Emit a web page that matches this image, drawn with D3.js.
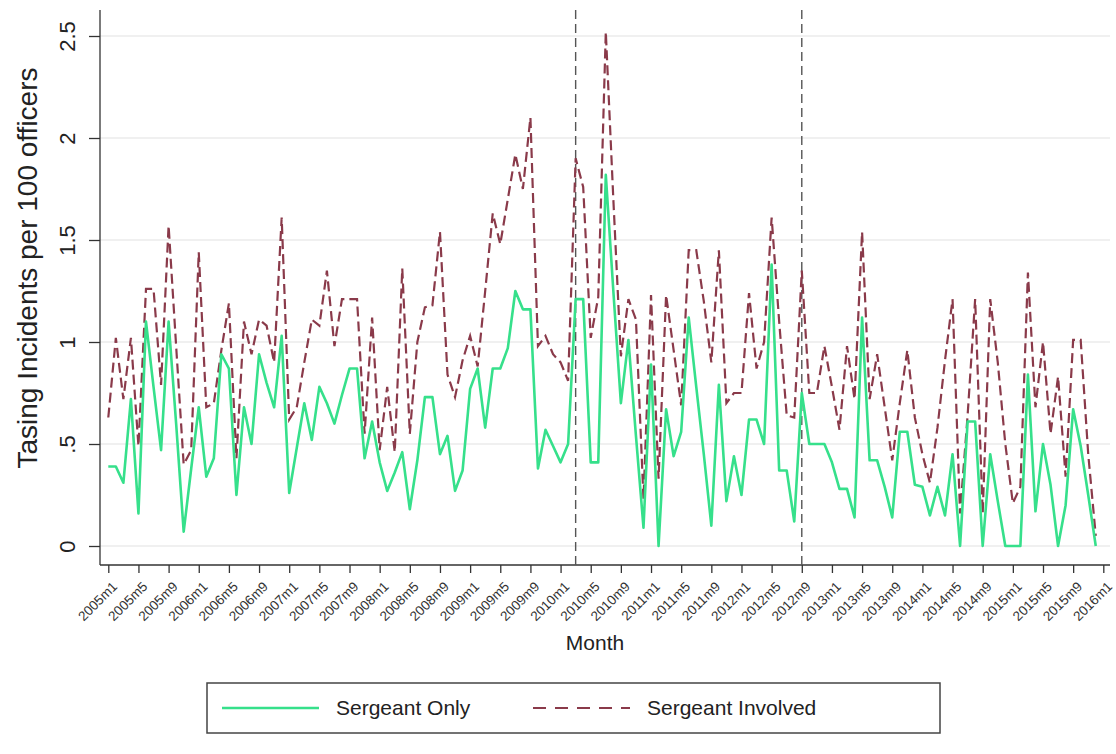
<!DOCTYPE html>
<html>
<head>
<meta charset="utf-8">
<script src="https://cdn.jsdelivr.net/npm/d3@7"></script>
<style>
  html, body { margin: 0; padding: 0; background: #fff; }
  svg { display: block; font-family: "Liberation Sans", Arial, Helvetica, sans-serif; }
</style>
</head>
<body>
<div class="chart"></div>
<script>
// months on the axis: 2005m1 .. 2016m1
const startYear = 2005;
const monthCount = 133;
const months = d3.range(monthCount).map(i => `${startYear + Math.floor(i / 12)}m${(i % 12) + 1}`);

const tickLabels = [
    "2005m1", "2005m5", "2005m9", "2006m1", "2006m5", "2006m9", "2007m1", "2007m5", "2007m9",
    "2008m1", "2008m5", "2008m9", "2009m1", "2009m5", "2009m9", "2010m1", "2010m5", "2010m9",
    "2011m1", "2011m5", "2011m9", "2012m1", "2012m5", "2012m9", "2013m1", "2013m5", "2013m9",
    "2014m1", "2014m5", "2014m9", "2015m1", "2015m5", "2015m9", "2016m1"
];
const yTicks = [0, 0.5, 1, 1.5, 2, 2.5];
const yTickLabels = ["0", ".5", "1", "1.5", "2", "2.5"];
const breakMonths = ["2010m3", "2012m9"];
const seriesNames = ["Sergeant Only", "Sergeant Involved"];

// monthly values, 2005m1 .. 2015m12
const sergeantOnly = [
    0.39, 0.39, 0.31, 0.72, 0.16, 1.10, 0.78, 0.47, 1.10, 0.60, 0.07, 0.38,
    0.68, 0.34, 0.43, 0.94, 0.87, 0.25, 0.68, 0.50, 0.94, 0.80, 0.68, 1.03,
    0.26, 0.48, 0.70, 0.52, 0.78, 0.70, 0.60, 0.74, 0.87, 0.87, 0.43, 0.61,
    0.41, 0.27, 0.36, 0.46, 0.18, 0.42, 0.73, 0.73, 0.45, 0.54, 0.27, 0.37,
    0.77, 0.87, 0.58, 0.87, 0.87, 0.97, 1.25, 1.16, 1.16, 0.38, 0.57, 0.49,
    0.41, 0.50, 1.21, 1.21, 0.41, 0.41, 1.82, 1.25, 0.70, 1.01, 0.54, 0.09,
    0.89, 0.00, 0.67, 0.44, 0.56, 1.12, 0.78, 0.45, 0.10, 0.79, 0.22, 0.44,
    0.25, 0.62, 0.62, 0.50, 1.38, 0.37, 0.37, 0.12, 0.75, 0.50, 0.50, 0.50,
    0.41, 0.28, 0.28, 0.14, 1.12, 0.42, 0.42, 0.29, 0.14, 0.56, 0.56, 0.30,
    0.29, 0.15, 0.29, 0.15, 0.45, 0.00, 0.61, 0.61, 0.00, 0.45, 0.22, 0.00,
    0.00, 0.00, 0.84, 0.17, 0.50, 0.30, 0.00, 0.20, 0.67, 0.49, 0.25, 0.00
];
const sergeantInvolved = [
    0.63, 1.02, 0.72, 1.02, 0.49, 1.26, 1.26, 0.79, 1.57, 0.98, 0.40, 0.47,
    1.44, 0.68, 0.70, 0.96, 1.19, 0.43, 1.10, 0.94, 1.11, 1.08, 0.90, 1.61,
    0.62, 0.68, 0.90, 1.11, 1.08, 1.35, 0.98, 1.21, 1.21, 1.21, 0.55, 1.12,
    0.47, 0.78, 0.46, 1.36, 0.55, 1.00, 1.17, 1.18, 1.54, 0.84, 0.73, 0.91,
    1.03, 0.88, 1.25, 1.63, 1.48, 1.70, 1.92, 1.75, 2.10, 0.98, 1.03, 0.94,
    0.90, 0.81, 1.90, 1.76, 1.02, 1.22, 2.52, 1.70, 0.93, 1.21, 1.11, 0.23,
    1.23, 0.33, 1.23, 0.96, 0.69, 1.45, 1.45, 1.20, 0.90, 1.45, 0.70, 0.75,
    0.75, 1.24, 0.87, 1.00, 1.61, 1.10, 0.64, 0.63, 1.35, 0.75, 0.75, 0.98,
    0.78, 0.57, 0.98, 0.72, 1.54, 0.72, 0.94, 0.68, 0.42, 0.70, 0.96, 0.63,
    0.45, 0.31, 0.58, 0.91, 1.21, 0.16, 0.64, 1.21, 0.16, 1.21, 0.90, 0.50,
    0.21, 0.29, 1.34, 0.68, 1.00, 0.55, 0.83, 0.34, 1.01, 1.01, 0.45, 0.05
];

const width = 1116;
const height = 754;
const frame = { left: 100, right: 1110, top: 10, bottom: 565 };

const green = "#36e08b";
const maroon = "#8a3a4a";
const axisColor = "#333";

const svg = d3.select(".chart")
    .append("svg")
    .attr("width", width)
    .attr("height", height);

const xScale = d3.scalePoint().domain(months).range([108.3, 1103.3]);
const yScale = d3.scaleLinear().domain([0, 2.5]).range([546, 36]);

// grid lines
svg.append("g")
    .selectAll("line")
    .data(yTicks)
    .enter()
    .append("line")
    .attr("x1", frame.left)
    .attr("x2", frame.right)
    .attr("y1", d => yScale(d))
    .attr("y2", d => yScale(d))
    .attr("stroke", "#ebebeb")
    .attr("stroke-width", 1.5);

// y axis
const yAxis = svg.append("g")
    .attr("transform", `translate(${frame.left},0)`)
    .call(d3.axisLeft(yScale)
        .tickValues(yTicks)
        .tickFormat((d, i) => yTickLabels[i])
        .tickSize(11)
        .tickSizeOuter(0));
yAxis.select(".domain").remove();
yAxis.selectAll(".tick line").attr("stroke", axisColor).attr("stroke-width", 1.3);
yAxis.selectAll(".tick text")
    .attr("x", 0)
    .attr("y", 0)
    .attr("dy", 0)
    .attr("text-anchor", "middle")
    .attr("transform", "translate(-25,0) rotate(-90)")
    .attr("font-size", 22)
    .attr("fill", "#222");

svg.append("line")
    .attr("x1", frame.left).attr("x2", frame.left)
    .attr("y1", frame.top).attr("y2", frame.bottom)
    .attr("stroke", axisColor).attr("stroke-width", 1.3);

// x axis
const xAxis = svg.append("g")
    .attr("transform", `translate(0,${frame.bottom})`)
    .call(d3.axisBottom(xScale)
        .tickValues(tickLabels)
        .tickSize(8)
        .tickSizeOuter(0));
xAxis.select(".domain").remove();
xAxis.selectAll(".tick line").attr("stroke", axisColor).attr("stroke-width", 1.3);
xAxis.selectAll(".tick text")
    .attr("x", 0)
    .attr("y", 0)
    .attr("dy", "0.35em")
    .attr("text-anchor", "end")
    .attr("transform", "translate(6,19) rotate(-45)")
    .attr("font-size", 13.5)
    .attr("fill", "#333");

svg.append("line")
    .attr("x1", frame.left).attr("x2", frame.right)
    .attr("y1", frame.bottom).attr("y2", frame.bottom)
    .attr("stroke", axisColor).attr("stroke-width", 1.3);

// reference lines
svg.append("g")
    .selectAll("line")
    .data(breakMonths)
    .enter()
    .append("line")
    .attr("x1", d => xScale(d))
    .attr("x2", d => xScale(d))
    .attr("y1", frame.top)
    .attr("y2", frame.bottom)
    .attr("stroke", "#555")
    .attr("stroke-width", 1.4)
    .attr("stroke-dasharray", "9,5");

// series
const line = d3.line()
    .x((d, i) => xScale(months[i]))
    .y(d => yScale(d));

svg.append("path")
    .datum(sergeantInvolved)
    .attr("fill", "none")
    .attr("stroke", maroon)
    .attr("stroke-width", 2.2)
    .attr("stroke-dasharray", "10,5")
    .attr("d", line);

svg.append("path")
    .datum(sergeantOnly)
    .attr("fill", "none")
    .attr("stroke", green)
    .attr("stroke-width", 2.6)
    .attr("stroke-linejoin", "round")
    .attr("d", line);

// titles
svg.append("text")
    .attr("x", 595)
    .attr("y", 650)
    .attr("text-anchor", "middle")
    .attr("font-size", 21)
    .attr("fill", "#222")
    .text("Month");

svg.append("text")
    .attr("transform", "translate(37,268) rotate(-90)")
    .attr("text-anchor", "middle")
    .attr("font-size", 28)
    .attr("fill", "#222")
    .text("Tasing Incidents per 100 officers");

// legend
const legend = svg.append("g");
legend.append("rect")
    .attr("x", 207).attr("y", 683)
    .attr("width", 733).attr("height", 50)
    .attr("fill", "#fff")
    .attr("stroke", "#444")
    .attr("stroke-width", 1.5);

const legendItems = [
    { name: seriesNames[0], color: green, dash: null, width: 2.6, x: 222 },
    { name: seriesNames[1], color: maroon, dash: "13,9", width: 2.2, x: 533 }
];
legendItems.forEach(d => {
    legend.append("line")
        .attr("x1", d.x).attr("x2", d.x + 97)
        .attr("y1", 708).attr("y2", 708)
        .attr("stroke", d.color)
        .attr("stroke-width", d.width)
        .attr("stroke-dasharray", d.dash);
    legend.append("text")
        .attr("x", d.x + 114)
        .attr("y", 715)
        .attr("font-size", 21)
        .attr("fill", "#222")
        .text(d.name);
});
</script>
</body>
</html>
